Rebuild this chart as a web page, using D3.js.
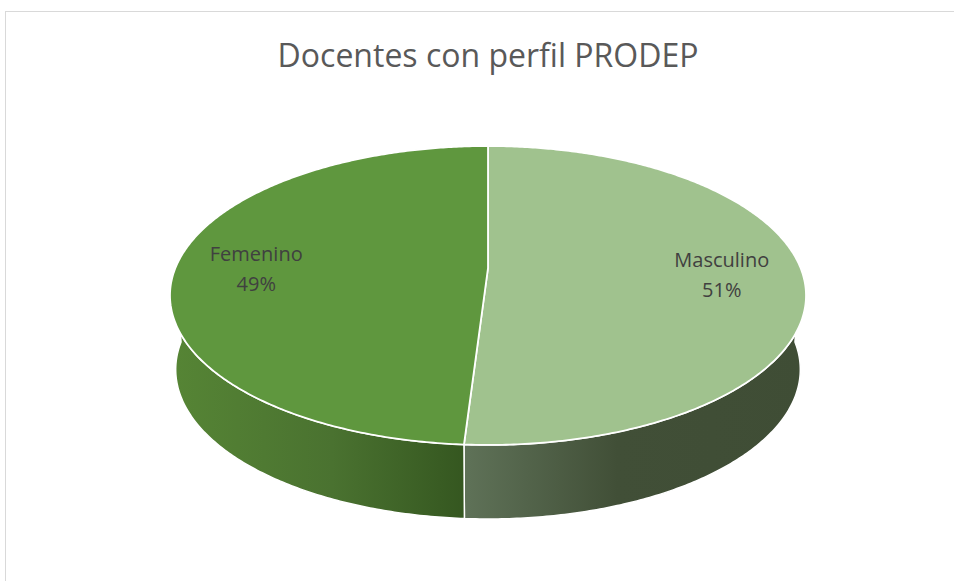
<!DOCTYPE html>
<meta charset="utf-8">
<html>
<head>
<title>Docentes con perfil PRODEP</title>
<script src="https://d3js.org/d3.v7.min.js"></script>
<style>
  body {margin: 0; background: #fff; font-family: "Open Sans", sans-serif;}
  .title {font-size: 32px; fill: #595959;}
  .label {font-size: 20px; fill: #404040;}
</style>
</head>
<body>
<svg id="chart" width="954" height="581"></svg>
<script>
// data
var categories = ["Masculino", "Femenino"];
var values = [51, 49];
var pctLabels = ["51%", "49%"];
var topColors = ["#a0c28e", "#5f973e"];
var wallStops = [
  [["0", "#5f7258"], ["0.45", "#414f37"], ["1", "#3f4d35"]],
  [["0", "#568535"], ["0.55", "#4a7230"], ["1", "#355720"]]
];

var svg = d3.select("#chart");

// frame
svg.append("rect")
    .attr("x", 5.5).attr("y", 11.5)
    .attr("width", 1000).attr("height", 700)
    .attr("fill", "none").attr("stroke", "#d9d9d9");

svg.append("text")
    .attr("class", "title")
    .attr("x", 488).attr("y", 67)
    .attr("text-anchor", "middle")
    .text("Docentes con perfil PRODEP");

// tilted disc with a bit of perspective
var cx = 488, cy = 268, focal = 1507, dist = 4.821;
var sa = 0.462, ca = Math.sqrt(1 - sa * sa);
var wallDrop = 74, wallShrink = 0.982;

function project(t, r) {
  var x = r * Math.sin(t), u = r * Math.cos(t);
  var depth = dist + u * ca;
  return [cx + focal * x / depth, cy - focal * u * sa / depth];
}

function arcPts(a0, a1, bottom) {
  var n = Math.max(2, Math.ceil(Math.abs(a1 - a0) / 0.01));
  return d3.range(n + 1).map(function (i) {
    var p = project(a0 + (a1 - a0) * i / n, 1);
    if (bottom) p = [cx + (p[0] - cx) * wallShrink, p[1] + wallDrop];
    return p;
  });
}

var pie = d3.pie().sort(null).value(function (d) { return d; });
var arcs = pie(values);
var line = d3.line();
var defs = svg.append("defs");

// side walls (front half only)
arcs.forEach(function (d, i) {
  var lo = Math.max(d.startAngle, Math.PI / 2),
      hi = Math.min(d.endAngle, 3 * Math.PI / 2);
  if (hi <= lo) return;
  var pts = arcPts(lo, hi, false).concat(arcPts(hi, lo, true));
  var xs = d3.extent(pts, function (p) { return p[0]; });
  var g = defs.append("linearGradient")
      .attr("id", "wall" + i)
      .attr("gradientUnits", "userSpaceOnUse")
      .attr("x1", xs[0]).attr("x2", xs[1]).attr("y1", 0).attr("y2", 0);
  wallStops[i].forEach(function (s) {
    g.append("stop").attr("offset", s[0]).attr("stop-color", s[1]);
  });
  svg.append("path")
      .attr("d", line(pts) + "Z")
      .attr("fill", "url(#wall" + i + ")")
      .attr("stroke", "#fff").attr("stroke-width", 1.5)
      .attr("stroke-linejoin", "round");
});

// top faces
arcs.forEach(function (d, i) {
  var pts = [project(0, 0)].concat(arcPts(d.startAngle, d.endAngle, false));
  svg.append("path")
      .attr("d", line(pts) + "Z")
      .attr("fill", topColors[i])
      .attr("stroke", "#fff").attr("stroke-width", 1.8)
      .attr("stroke-linejoin", "round");
});

// labels
arcs.forEach(function (d, i) {
  var mid = (d.startAngle + d.endAngle) / 2;
  var p = project(mid, 0.745);
  var t = svg.append("text")
      .attr("class", "label")
      .attr("text-anchor", "middle")
      .attr("transform", "translate(" + p[0] + "," + (p[1] + 4) + ")");
  t.append("tspan").attr("x", 0).attr("y", -8).text(categories[i]);
  t.append("tspan").attr("x", 0).attr("y", 22).text(pctLabels[i]);
});
</script>
</body>
</html>
